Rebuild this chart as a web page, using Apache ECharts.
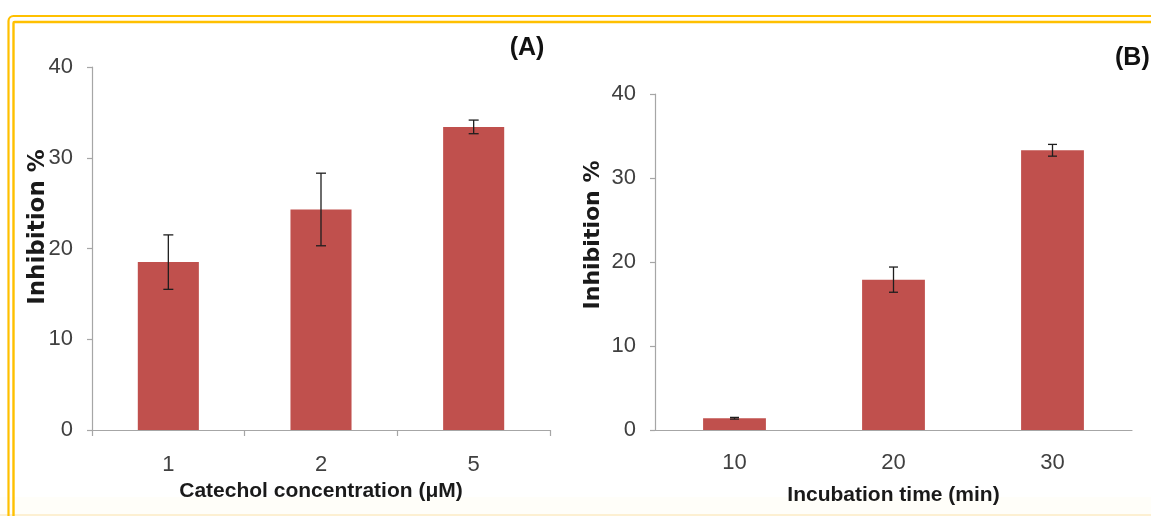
<!DOCTYPE html>
<html>
<head>
<meta charset="utf-8">
<script src="https://cdn.jsdelivr.net/npm/echarts@6/dist/echarts.min.js"></script>
<style>
  html, body { margin: 0; padding: 0; background: #ffffff; }
  #chart { width: 1151px; height: 516px; }
</style>
</head>
<body>
<div id="chart"></div>
<script>
// Panel A: inhibition vs catechol concentration
const concCategories = ['1', '2', '5'];
const concMeans = [18.5, 24.3, 33.4];
const concErrors = [3.0, 4.0, 0.75];

// Panel B: inhibition vs incubation time
const timeCategories = ['10', '20', '30'];
const timeMeans = [1.4, 17.9, 33.3];
const timeErrors = [0.1, 1.5, 0.7];

const yTicks = { min: 0, max: 40, interval: 10 };

const BAR = '#C0504D';
const AXIS = '#A6A6A6';
const TICK_TEXT = '#404040';
const TITLE_TEXT = '#1a1a1a';
const BORDER = '#FFC000';

function errorData(means, errs) {
  return means.map((m, i) => [i, m - errs[i], m + errs[i]]);
}

function errorRender(capHalf) {
  return function (params, api) {
    const x = api.value(0);
    const lo = api.coord([x, api.value(1)]);
    const hi = api.coord([x, api.value(2)]);
    const style = { stroke: '#1e1e1e', lineWidth: 1.3 };
    return {
      type: 'group',
      children: [
        { type: 'line', shape: { x1: hi[0], y1: hi[1], x2: lo[0], y2: lo[1] }, style },
        { type: 'line', shape: { x1: hi[0] - capHalf, y1: hi[1], x2: hi[0] + capHalf, y2: hi[1] }, style },
        { type: 'line', shape: { x1: lo[0] - capHalf, y1: lo[1], x2: lo[0] + capHalf, y2: lo[1] }, style }
      ]
    };
  };
}

const tickLabel = { color: TICK_TEXT, fontFamily: '"Liberation Sans Narrow", "Liberation Sans", Arial, sans-serif', fontSize: 22 };
const xTitle = { color: TITLE_TEXT, fontFamily: '"Liberation Sans", Arial, sans-serif', fontSize: 21, fontWeight: 'bold' };

function valueAxis(gridIndex) {
  return {
    type: 'value', gridIndex,
    min: yTicks.min, max: yTicks.max, interval: yTicks.interval,
    axisLine: { show: true, lineStyle: { color: AXIS, width: 1.2 } },
    axisTick: { show: true, length: 5, lineStyle: { color: AXIS, width: 1.2 } },
    axisLabel: Object.assign({ margin: 19 }, tickLabel),
    splitLine: { show: false }
  };
}

const chart = echarts.init(document.getElementById('chart'), null, { renderer: 'canvas' });

chart.setOption({
  backgroundColor: '#ffffff',
  animation: false,
  grid: [
    { left: 92, right: 601, top: 67, bottom: 86 },
    { left: 655, right: 19, top: 94, bottom: 86 }
  ],
  xAxis: [
    {
      type: 'category', gridIndex: 0, data: concCategories,
      name: 'Catechol concentration (\u03bcM)', nameLocation: 'middle', nameGap: 51,
      nameTextStyle: xTitle,
      axisLine: { lineStyle: { color: AXIS, width: 1.2 } },
      axisTick: { show: true, length: 6, lineStyle: { color: AXIS, width: 1.2 } },
      axisLabel: Object.assign({ margin: 24 }, tickLabel)
    },
    {
      type: 'category', gridIndex: 1, data: timeCategories,
      name: 'Incubation time (min)', nameLocation: 'middle', nameGap: 55,
      nameTextStyle: xTitle,
      axisLine: { lineStyle: { color: AXIS, width: 1.2 } },
      axisTick: { show: false },
      axisLabel: Object.assign({ margin: 22 }, tickLabel)
    }
  ],
  yAxis: [valueAxis(0), valueAxis(1)],
  series: [
    {
      type: 'bar', xAxisIndex: 0, yAxisIndex: 0, data: concMeans,
      barWidth: '40%', itemStyle: { color: BAR }, z: 2
    },
    {
      type: 'custom', xAxisIndex: 0, yAxisIndex: 0,
      data: errorData(concMeans, concErrors),
      renderItem: errorRender(5), z: 3
    },
    {
      type: 'bar', xAxisIndex: 1, yAxisIndex: 1, data: timeMeans,
      barWidth: '39.5%', itemStyle: { color: BAR }, z: 2
    },
    {
      type: 'custom', xAxisIndex: 1, yAxisIndex: 1,
      data: errorData(timeMeans, timeErrors),
      renderItem: errorRender(4.5), z: 3
    }
  ],
  graphic: [
    // faint cream strip along the bottom
    { type: 'rect', z: -2, shape: { x: 0, y: 497, width: 1151, height: 19 }, style: { fill: '#FFFEF9' } },
    { type: 'rect', z: -1, shape: { x: 0, y: 514, width: 1151, height: 2 }, style: { fill: '#FDF0D2' } },
    // double golden frame
    { type: 'rect', z: 10, shape: { x: 8.5, y: 16, width: 1200, height: 560, r: 5 }, style: { fill: null, stroke: BORDER, lineWidth: 2.2 } },
    { type: 'rect', z: 10, shape: { x: 13.5, y: 22, width: 1200, height: 560, r: 1 }, style: { fill: null, stroke: BORDER, lineWidth: 2.4 } },
    // y-axis titles
    {
      type: 'text', x: 38, y: 227, rotation: Math.PI / 2,
      style: { text: 'Inhibition %', fill: TITLE_TEXT, font: 'bold 23px "DejaVu Sans", Verdana, sans-serif', align: 'center', verticalAlign: 'middle' }
    },
    {
      type: 'text', x: 593, y: 235, rotation: Math.PI / 2,
      style: { text: 'Inhibition %', fill: TITLE_TEXT, font: 'bold 22px "DejaVu Sans", Verdana, sans-serif', align: 'center', verticalAlign: 'middle' }
    },
    // panel letters
    {
      type: 'text', x: 527, y: 48,
      style: { text: '(A)', fill: '#111', font: 'bold 25px "Liberation Sans", Arial, sans-serif', align: 'center', verticalAlign: 'middle' }
    },
    {
      type: 'text', x: 1115, y: 58,
      style: { text: '(B)', fill: '#111', font: 'bold 25px "Liberation Sans", Arial, sans-serif', align: 'left', verticalAlign: 'middle' }
    }
  ]
});
</script>
</body>
</html>
